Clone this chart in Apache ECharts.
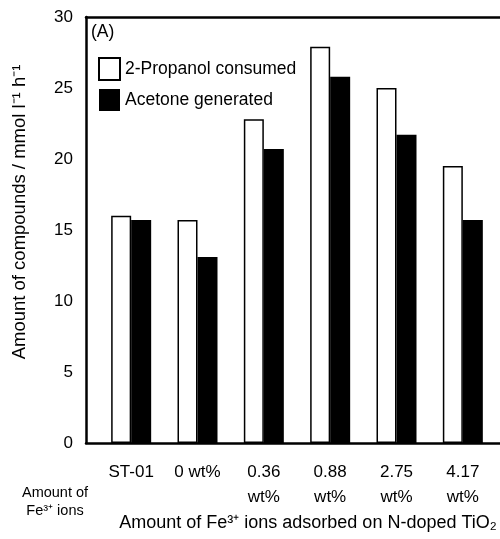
<!DOCTYPE html>
<html>
<head>
<meta charset="utf-8">
<script src="https://cdn.jsdelivr.net/npm/echarts@6/dist/echarts.min.js"></script>
<style>
html,body{margin:0;padding:0;background:#fff;}
#chart{width:500px;height:539px;}
</style>
</head>
<body>
<div id="chart"></div>
<script>
const categories = ['ST-01', '0 wt%', '0.36\nwt%', '0.88\nwt%', '2.75\nwt%', '4.17\nwt%'];
const propanolConsumed = [16.0, 15.7, 22.8, 27.9, 25.0, 19.5];
const acetoneGenerated = [15.7, 13.1, 20.7, 25.8, 21.7, 15.7];
const seriesNames = ['2-Propanol consumed', 'Acetone generated'];
const yMin = 0, yMax = 30, yStep = 5;
const yAxisTitle = 'Amount of compounds / mmol l\u207B\u00B9 h\u207B\u00B9';
const xAxisTitle = 'Amount of Fe\u00B3\u207A ions adsorbed on N-doped TiO\u2082';
const leftNote = 'Amount of\nFe\u00B3\u207A ions';
const panelLabel = '(A)';

const FONT = "'Liberation Sans', Arial, Helvetica, sans-serif";
const chart = echarts.init(document.getElementById('chart'), null, {renderer: 'canvas'});

const option = {
  backgroundColor: '#fff',
  animation: false,
  textStyle: {fontFamily: FONT, color: '#000'},
  title: {
    text: panelLabel, left: 86, top: 18,
    textStyle: {fontFamily: FONT, fontSize: 17.5, fontWeight: 'normal', color: '#000'}
  },
  legend: {
    orient: 'vertical', left: 93, top: 52,
    itemWidth: 21, itemHeight: 22, itemGap: 8,
    icon: 'rect',
    textStyle: {fontFamily: FONT, fontSize: 17.5, color: '#000'},
    data: seriesNames
  },
  grid: [
    {left: 86, top: 17, width: 440, height: 426},
    {left: 98, top: 17, width: 398, height: 426}
  ],
  xAxis: [
    {gridIndex: 0, type: 'category', data: [''], position: 'bottom',
     axisLine: {show: true, lineStyle: {color: '#000', width: 2.5}},
     axisTick: {show: false}, axisLabel: {show: false}},
    {gridIndex: 0, type: 'category', data: [''], position: 'top',
     axisLine: {show: true, lineStyle: {color: '#000', width: 2.5}},
     axisTick: {show: false}, axisLabel: {show: false}},
    {gridIndex: 1, type: 'category', data: categories,
     axisLine: {show: false}, axisTick: {show: false},
     axisLabel: {margin: 17, fontFamily: FONT, fontSize: 17, lineHeight: 25, color: '#000', interval: 0}}
  ],
  yAxis: [
    {gridIndex: 0, type: 'value', min: yMin, max: yMax, interval: yStep,
     axisLine: {show: true, lineStyle: {color: '#000', width: 2.5}},
     axisTick: {show: false}, splitLine: {show: false},
     axisLabel: {margin: 13, fontFamily: FONT, fontSize: 17, color: '#000', padding: [6, 0, 0, 0]},
     name: yAxisTitle, nameLocation: 'middle', nameRotate: 90, nameGap: 57,
     nameTextStyle: {fontFamily: FONT, fontSize: 18.5, color: '#000', padding: [0, 0, 0, 36]}},
    {gridIndex: 1, type: 'value', min: yMin, max: yMax, interval: yStep, show: false}
  ],
  series: [
    {name: seriesNames[0], type: 'bar', xAxisIndex: 2, yAxisIndex: 1,
     data: propanolConsumed, barWidth: 20, barGap: '0%',
     itemStyle: {color: '#fff', borderColor: '#000', borderWidth: 1.5}},
    {name: seriesNames[1], type: 'bar', xAxisIndex: 2, yAxisIndex: 1,
     data: acetoneGenerated, barWidth: 20, barGap: '0%',
     itemStyle: {color: '#000', borderColor: '#000', borderWidth: 0}}
  ],
  graphic: [
    {type: 'text', x: 55, y: 502,
     style: {text: leftNote, font: '14.5px ' + FONT, fill: '#000', align: 'center', verticalAlign: 'middle', lineHeight: 18}},
    {type: 'text', x: 308, y: 523,
     style: {text: xAxisTitle, font: '18px ' + FONT, fill: '#000', align: 'center', verticalAlign: 'middle'}}
  ]
};
chart.setOption(option);
</script>
</body>
</html>
